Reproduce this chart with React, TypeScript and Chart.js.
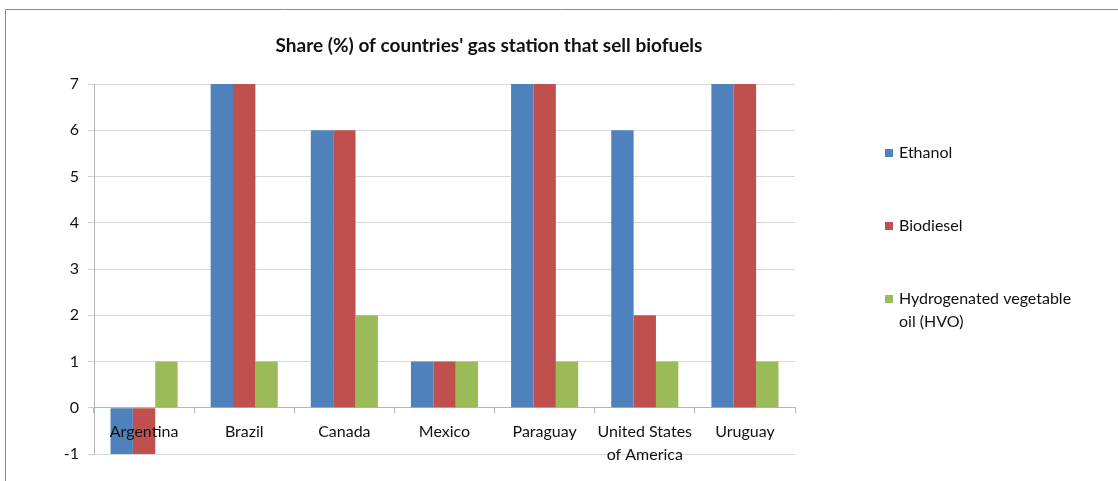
import React, { useEffect, useRef } from 'react';
import { Chart, registerables } from 'chart.js';

Chart.register(...registerables);

const chartTitle = "Share (%) of countries' gas station that sell biofuels";
const categories: (string | string[])[] = [
  'Argentina',
  'Brazil',
  'Canada',
  'Mexico',
  'Paraguay',
  ['United States', 'of America'],
  'Uruguay',
];
const ethanol = [-1, 7, 6, 1, 7, 6, 7];
const biodiesel = [-1, 7, 6, 1, 7, 2, 7];
const hvo = [1, 1, 2, 1, 1, 1, 1];
const seriesNames = ['Ethanol', 'Biodiesel', 'Hydrogenated vegetable oil (HVO)'];
const seriesColors = ['#4F81BD', '#C0504D', '#9BBB59'];
const yMin = -1;
const yMax = 7;

const FONT = 'Lato, "Open Sans", sans-serif';

function wrapText(ctx: CanvasRenderingContext2D, text: string, maxWidth: number): string[] {
  const words = text.split(' ');
  const lines: string[] = [];
  let cur = '';
  for (const w of words) {
    const test = cur ? cur + ' ' + w : w;
    if (ctx.measureText(test).width > maxWidth && cur) {
      lines.push(cur);
      cur = w;
    } else {
      cur = test;
    }
  }
  if (cur) lines.push(cur);
  return lines;
}

const decorPlugin = {
  id: 'decor',
  beforeDraw(chart: any) {
    const ctx = chart.ctx as CanvasRenderingContext2D;
    ctx.save();
    ctx.fillStyle = '#ffffff';
    ctx.fillRect(0, 0, chart.width, chart.height);
    ctx.strokeStyle = '#8a8a8a';
    ctx.lineWidth = 1;
    ctx.beginPath();
    ctx.moveTo(5.5, chart.height);
    ctx.lineTo(5.5, 9.5);
    ctx.lineTo(chart.width, 9.5);
    ctx.stroke();
    ctx.restore();
  },
  afterDraw(chart: any) {
    const ctx = chart.ctx as CanvasRenderingContext2D;
    ctx.save();
    // title
    ctx.fillStyle = '#111111';
    ctx.font = `bold 19px ${FONT}`;
    ctx.textAlign = 'center';
    ctx.textBaseline = 'middle';
    ctx.fillText(chartTitle, 489, 46);
    // legend
    ctx.font = `16px ${FONT}`;
    ctx.textAlign = 'left';
    const datasets = chart.data.datasets;
    const startY = 153;
    const gap = 73;
    const lineH = 23;
    datasets.forEach((ds: any, i: number) => {
      const cy = startY + i * gap;
      ctx.fillStyle = ds.backgroundColor;
      ctx.fillRect(885, cy - 4, 8, 8);
      ctx.fillStyle = '#111111';
      const lines = wrapText(ctx, ds.label, 186);
      lines.forEach((ln, j) => ctx.fillText(ln, 899, cy + j * lineH));
    });
    ctx.restore();
  },
};

export default function App() {
  const canvasRef = useRef<HTMLCanvasElement | null>(null);

  useEffect(() => {
    if (!canvasRef.current) return;
    const seriesData = [ethanol, biodiesel, hvo];
    const chart = new Chart(canvasRef.current, {
      type: 'bar',
      data: {
        labels: categories as any,
        datasets: seriesNames.map((name, i) => ({
          label: name,
          data: seriesData[i],
          backgroundColor: seriesColors[i],
          borderWidth: 0,
          categoryPercentage: 0.67,
          barPercentage: 1.0,
        })),
      },
      options: {
        animation: false,
        responsive: false,
        maintainAspectRatio: false,
        layout: { padding: { left: 0, right: 323, top: 84, bottom: 27 } },
        plugins: {
          legend: { display: false },
          title: { display: false },
          tooltip: { enabled: false },
        },
        scales: {
          x: {
            position: { y: 0 } as any,
            offset: true,
            grid: {
              display: true,
              offset: true,
              drawOnChartArea: false,
              drawTicks: true,
              tickLength: 5,
              tickColor: '#b5b5b5',
            },
            border: { display: true, color: '#b5b5b5' },
            ticks: {
              z: 1,
              padding: 7,
              color: '#111111',
              maxRotation: 0,
              autoSkip: false,
              font: { family: FONT, size: 16, lineHeight: 1.45 },
            },
            afterFit: (scale: any) => {
              scale.height = 0;
            },
          },
          y: {
            min: yMin,
            max: yMax,
            ticks: {
              stepSize: 1,
              padding: 9,
              color: '#111111',
              font: { family: FONT, size: 16 },
            },
            grid: {
              color: '#d9d9d9',
              tickColor: '#d0d0d0',
              tickLength: 6,
            },
            border: { display: true, color: '#b5b5b5' },
            afterFit: (scale: any) => {
              scale.width = 94;
            },
          },
        },
      },
      plugins: [decorPlugin],
    });
    return () => chart.destroy();
  }, []);

  return (
    <div
      style={{
        position: 'fixed',
        left: 0,
        top: 0,
        width: 1118,
        height: 481,
        overflow: 'hidden',
        background: '#ffffff',
      }}
    >
      <canvas ref={canvasRef} width={1118} height={481} style={{ display: 'block' }} />
    </div>
  );
}
